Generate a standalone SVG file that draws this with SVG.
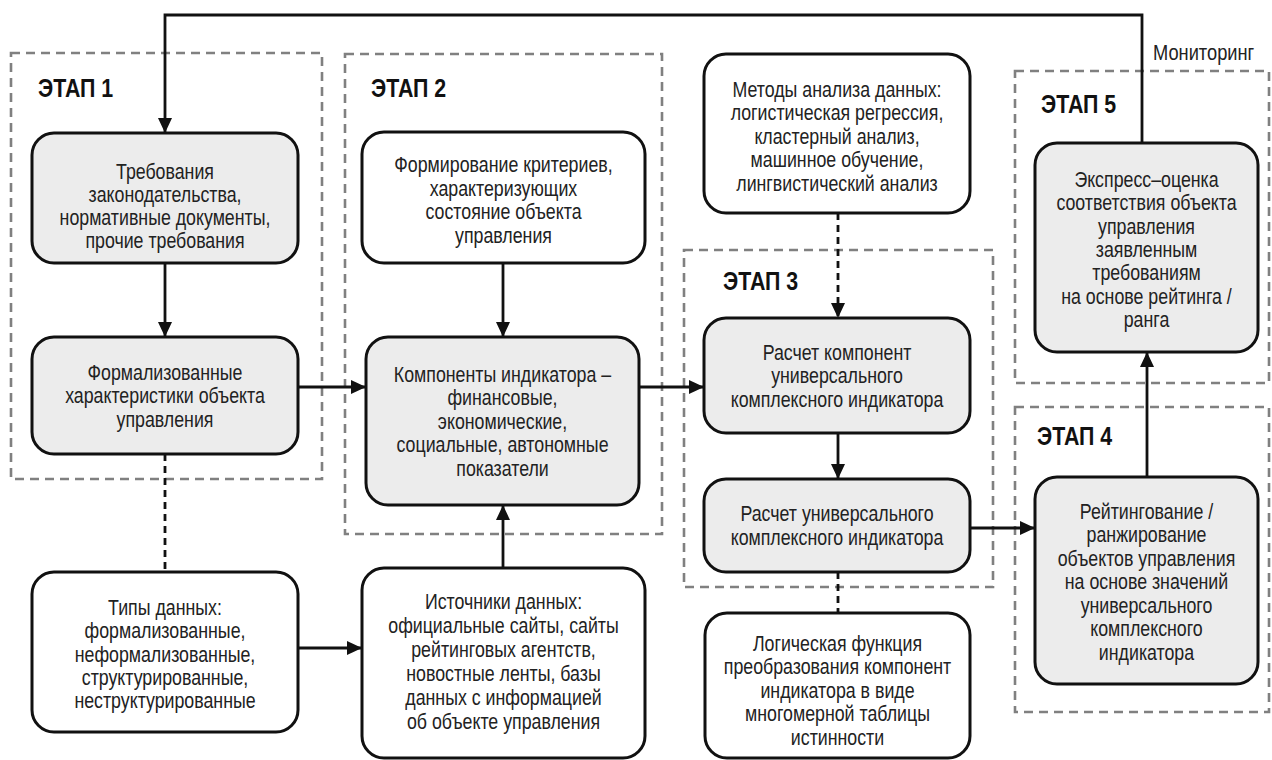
<svg xmlns="http://www.w3.org/2000/svg" width="1272" height="760" viewBox="0 0 1272 760">
<style>
.stage{fill:none;stroke:#808080;stroke-width:2.6;stroke-dasharray:9 6}
.box{stroke:#111;stroke-width:3}
.g{fill:#ececec}
.w{fill:#fff}
.t{font-family:"Liberation Sans",Arial,sans-serif;font-size:22.5px;fill:#222;text-anchor:middle}
.lbl{font-family:"Liberation Sans",Arial,sans-serif;font-size:25px;font-weight:bold;fill:#111}
.mon{font-family:"Liberation Sans",Arial,sans-serif;font-size:22px;fill:#222}
.c{fill:none;stroke:#111;stroke-width:2.8}
.d{fill:none;stroke:#111;stroke-width:2.8;stroke-dasharray:7 5}
</style>
<defs>
<marker id="ah" markerUnits="userSpaceOnUse" markerWidth="15" markerHeight="14" refX="15" refY="7" orient="auto">
<path d="M0,0 L15,7 L0,14 z" fill="#111"/>
</marker>
</defs>
<rect width="1272" height="760" fill="#fff"/>
<g id="stages">
<rect class="stage" x="11" y="53" width="311" height="426"/>
<rect class="stage" x="345" y="54" width="317" height="480"/>
<rect class="stage" x="684" y="250" width="309" height="337"/>
<rect class="stage" x="1015" y="71" width="254" height="312"/>
<rect class="stage" x="1015" y="407" width="254" height="305"/>
<text class="lbl" transform="translate(38 97) scale(0.855 1)">ЭТАП 1</text>
<text class="lbl" transform="translate(371 97) scale(0.855 1)">ЭТАП 2</text>
<text class="lbl" transform="translate(723 290) scale(0.855 1)">ЭТАП 3</text>
<text class="lbl" transform="translate(1037 445) scale(0.855 1)">ЭТАП 4</text>
<text class="lbl" transform="translate(1041 113) scale(0.855 1)">ЭТАП 5</text>
</g>
<g id="connectors">
<path class="c" d="M1142,143 V15 H165 V133" marker-end="url(#ah)"/>
<path class="c" d="M165,263 V337" marker-end="url(#ah)"/>
<path class="c" d="M298,387 H366" marker-end="url(#ah)"/>
<path class="c" d="M503,263 V337" marker-end="url(#ah)"/>
<path class="c" d="M639,387 H704" marker-end="url(#ah)"/>
<path class="d" d="M838,213 V318" marker-end="url(#ah)"/>
<path class="c" d="M838,433 V479" marker-end="url(#ah)"/>
<path class="c" d="M970,528 H1035" marker-end="url(#ah)"/>
<path class="c" d="M1147,477 V352" marker-end="url(#ah)"/>
<path class="d" d="M838,572 V613"/>
<path class="d" d="M165,454 V572"/>
<path class="c" d="M298,648 H362" marker-end="url(#ah)"/>
<path class="c" d="M503,568 V505" marker-end="url(#ah)"/>
<text class="mon" transform="translate(1153 60) scale(0.83 1)">Мониторинг</text>
</g>
<g id="n-requirements">
<rect class="box g" x="32" y="133" width="266" height="130" rx="22"/>
<text class="t" transform="translate(165 0) scale(0.79 1)"><tspan x="0" y="179">Требования</tspan><tspan x="0" y="202">законодательства,</tspan><tspan x="0" y="225">нормативные документы,</tspan><tspan x="0" y="248">прочие требования</tspan></text>
</g>
<g id="n-formalized">
<rect class="box g" x="32" y="337" width="266" height="117" rx="22"/>
<text class="t" transform="translate(165 0) scale(0.79 1)"><tspan x="0" y="380">Формализованные</tspan><tspan x="0" y="403.5">характеристики объекта</tspan><tspan x="0" y="427">управления</tspan></text>
</g>
<g id="n-criteria">
<rect class="box w" x="362" y="132" width="283" height="131" rx="22"/>
<text class="t" transform="translate(503.5 0) scale(0.79 1)"><tspan x="0" y="172">Формирование критериев,</tspan><tspan x="0" y="196">характеризующих</tspan><tspan x="0" y="219.5">состояние объекта</tspan><tspan x="0" y="243">управления</tspan></text>
</g>
<g id="n-components">
<rect class="box g" x="366" y="337" width="273" height="168" rx="22"/>
<text class="t" transform="translate(502.5 0) scale(0.79 1)"><tspan x="0" y="382">Компоненты индикатора –</tspan><tspan x="0" y="405.5">финансовые,</tspan><tspan x="0" y="429">экономические,</tspan><tspan x="0" y="452.5">социальные, автономные</tspan><tspan x="0" y="476">показатели</tspan></text>
</g>
<g id="n-methods">
<rect class="box w" x="704" y="54" width="266" height="159" rx="22"/>
<text class="t" transform="translate(837 0) scale(0.79 1)"><tspan x="0" y="97">Методы анализа данных:</tspan><tspan x="0" y="120.5">логистическая регрессия,</tspan><tspan x="0" y="144">кластерный анализ,</tspan><tspan x="0" y="167.5">машинное обучение,</tspan><tspan x="0" y="191">лингвистический анализ</tspan></text>
</g>
<g id="n-calc-components">
<rect class="box g" x="704" y="318" width="266" height="115" rx="22"/>
<text class="t" transform="translate(837 0) scale(0.79 1)"><tspan x="0" y="360">Расчет компонент</tspan><tspan x="0" y="383.5">универсального</tspan><tspan x="0" y="407">комплексного индикатора</tspan></text>
</g>
<g id="n-calc-indicator">
<rect class="box g" x="704" y="479" width="266" height="93" rx="22"/>
<text class="t" transform="translate(837 0) scale(0.79 1)"><tspan x="0" y="521">Расчет универсального</tspan><tspan x="0" y="545">комплексного индикатора</tspan></text>
</g>
<g id="n-logic">
<rect class="box w" x="705" y="613" width="265" height="145" rx="22"/>
<text class="t" transform="translate(837.5 0) scale(0.79 1)"><tspan x="0" y="651">Логическая функция</tspan><tspan x="0" y="674.5">преобразования компонент</tspan><tspan x="0" y="698">индикатора в виде</tspan><tspan x="0" y="721.5">многомерной таблицы</tspan><tspan x="0" y="745">истинности</tspan></text>
</g>
<g id="n-express">
<rect class="box g" x="1035" y="143" width="223" height="209" rx="22"/>
<text class="t" transform="translate(1146.5 0) scale(0.79 1)"><tspan x="0" y="187">Экспресс–оценка</tspan><tspan x="0" y="210.5">соответствия объекта</tspan><tspan x="0" y="234">управления</tspan><tspan x="0" y="257">заявленным</tspan><tspan x="0" y="280.5">требованиям</tspan><tspan x="0" y="304">на основе рейтинга /</tspan><tspan x="0" y="327.5">ранга</tspan></text>
</g>
<g id="n-rating">
<rect class="box g" x="1035" y="477" width="223" height="207" rx="22"/>
<text class="t" transform="translate(1146.5 0) scale(0.79 1)"><tspan x="0" y="519">Рейтингование /</tspan><tspan x="0" y="542.5">ранжирование</tspan><tspan x="0" y="566">объектов управления</tspan><tspan x="0" y="589.5">на основе значений</tspan><tspan x="0" y="613">универсального</tspan><tspan x="0" y="636.5">комплексного</tspan><tspan x="0" y="660">индикатора</tspan></text>
</g>
<g id="n-datatypes">
<rect class="box w" x="32" y="572" width="266" height="160" rx="22"/>
<text class="t" transform="translate(165 0) scale(0.79 1)"><tspan x="0" y="615">Типы данных:</tspan><tspan x="0" y="638.5">формализованные,</tspan><tspan x="0" y="662">неформализованные,</tspan><tspan x="0" y="685">структурированные,</tspan><tspan x="0" y="708">неструктурированные</tspan></text>
</g>
<g id="n-sources">
<rect class="box w" x="362" y="568" width="283" height="190" rx="22"/>
<text class="t" transform="translate(503.5 0) scale(0.79 1)"><tspan x="0" y="609">Источники данных:</tspan><tspan x="0" y="633">официальные сайты, сайты</tspan><tspan x="0" y="657">рейтинговых агентств,</tspan><tspan x="0" y="681">новостные ленты, базы</tspan><tspan x="0" y="705">данных с информацией</tspan><tspan x="0" y="729">об объекте управления</tspan></text>
</g>
</svg>
